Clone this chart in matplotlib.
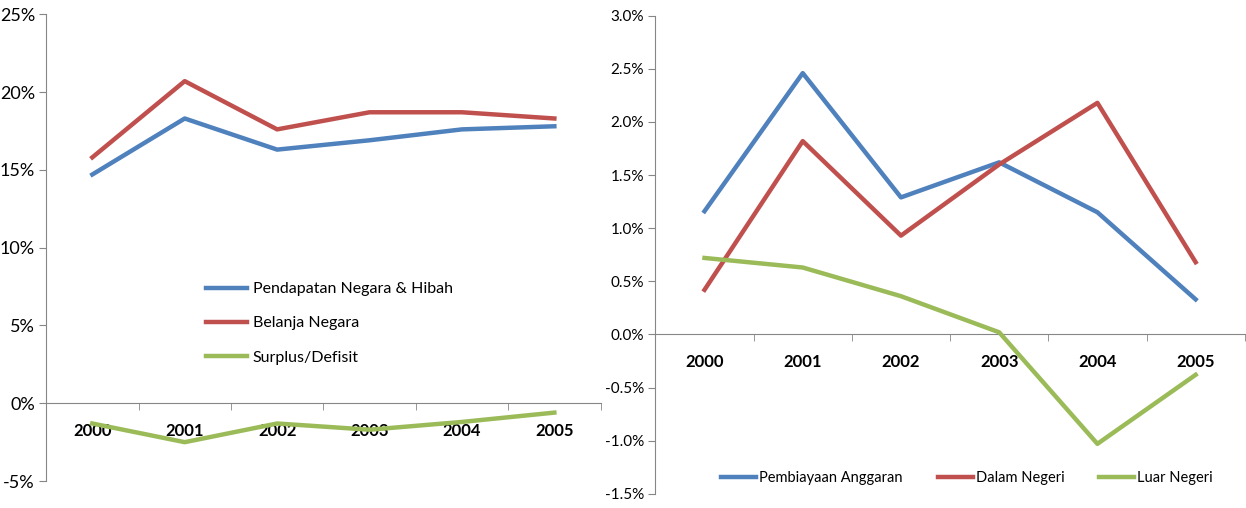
import matplotlib.pyplot as plt
from matplotlib.ticker import FuncFormatter, FixedLocator

plt.rcParams['font.family'] = ['Lato', 'DejaVu Sans']

years = ['2000', '2001', '2002', '2003', '2004', '2005']

# Pendapatan, belanja dan surplus/defisit (% PDB)
pendapatan = [14.7, 18.3, 16.3, 16.9, 17.6, 17.8]
belanja = [15.8, 20.7, 17.6, 18.7, 18.7, 18.3]
surplus = [-1.3, -2.5, -1.3, -1.7, -1.2, -0.6]

# Pembiayaan anggaran (% PDB)
pembiayaan = [1.16, 2.46, 1.29, 1.62, 1.15, 0.33]
dalam_negeri = [0.42, 1.82, 0.93, 1.60, 2.18, 0.68]
luar_negeri = [0.72, 0.63, 0.36, 0.02, -1.03, -0.38]

BLUE = '#4F81BD'
RED = '#C0504D'
GREEN = '#9BBB59'
GRID = '#868686'

fig = plt.figure(figsize=(12.46, 5.08), dpi=100)
ax1 = fig.add_axes([0.037, 0.053, 0.445, 0.919])
ax2 = fig.add_axes([0.526, 0.028, 0.473, 0.941])


def style_axes(ax, lo, hi, step, fmt, ysize):
    x = range(len(years))
    ax.set_xlim(-0.5, len(years) - 0.5)
    ax.set_ylim(lo, hi)
    for s in ['top', 'right']:
        ax.spines[s].set_visible(False)
    ax.spines['bottom'].set_position(('data', 0))
    ax.spines['bottom'].set_color(GRID)
    ax.spines['left'].set_color(GRID)
    ax.spines['bottom'].set_zorder(1)

    ax.set_xticks(list(x))
    ax.set_xticklabels(years, fontsize=12, fontweight='bold')
    ax.tick_params(axis='x', which='major', length=0, pad=14)
    ax.xaxis.set_minor_locator(FixedLocator([i - 0.5 for i in range(len(years) + 1)]))
    ax.tick_params(axis='x', which='minor', length=5, color=GRID, direction='out')

    n = int(round((hi - lo) / step))
    ax.set_yticks([lo + i * step for i in range(n + 1)])
    ax.yaxis.set_major_formatter(FuncFormatter(fmt))
    ax.tick_params(axis='y', length=5, color=GRID, labelsize=ysize, pad=3)


style_axes(ax1, -5, 25, 5, lambda v, p: f'{v:.0f}%', 13)
style_axes(ax2, -1.5, 3.0, 0.5, lambda v, p: f'{v:.1f}%', 11)

x = range(len(years))
lw = 3.2
ax1.plot(x, pendapatan, color=BLUE, lw=lw, label='Pendapatan Negara & Hibah', zorder=3)
ax1.plot(x, belanja, color=RED, lw=lw, label='Belanja Negara', zorder=3)
ax1.plot(x, surplus, color=GREEN, lw=lw, label='Surplus/Defisit', zorder=3)
ax1.legend(loc='center left', bbox_to_anchor=(0.288, 0.338), frameon=False,
           fontsize=11.5, handlelength=2.6, labelspacing=1.25, handletextpad=0.35,
           borderaxespad=0, borderpad=0)

ax2.plot(x, pembiayaan, color=BLUE, lw=lw, label='Pembiayaan Anggaran', zorder=3)
ax2.plot(x, dalam_negeri, color=RED, lw=lw, label='Dalam Negeri', zorder=3)
ax2.plot(x, luar_negeri, color=GREEN, lw=lw, label='Luar Negeri', zorder=3)
ax2.legend(loc='center left', bbox_to_anchor=(0.112, 0.033), ncol=3, frameon=False,
           fontsize=10.5, handlelength=2.4, columnspacing=2.4, handletextpad=0.2,
           borderaxespad=0, borderpad=0)

fig.savefig('out.png', dpi=100)
